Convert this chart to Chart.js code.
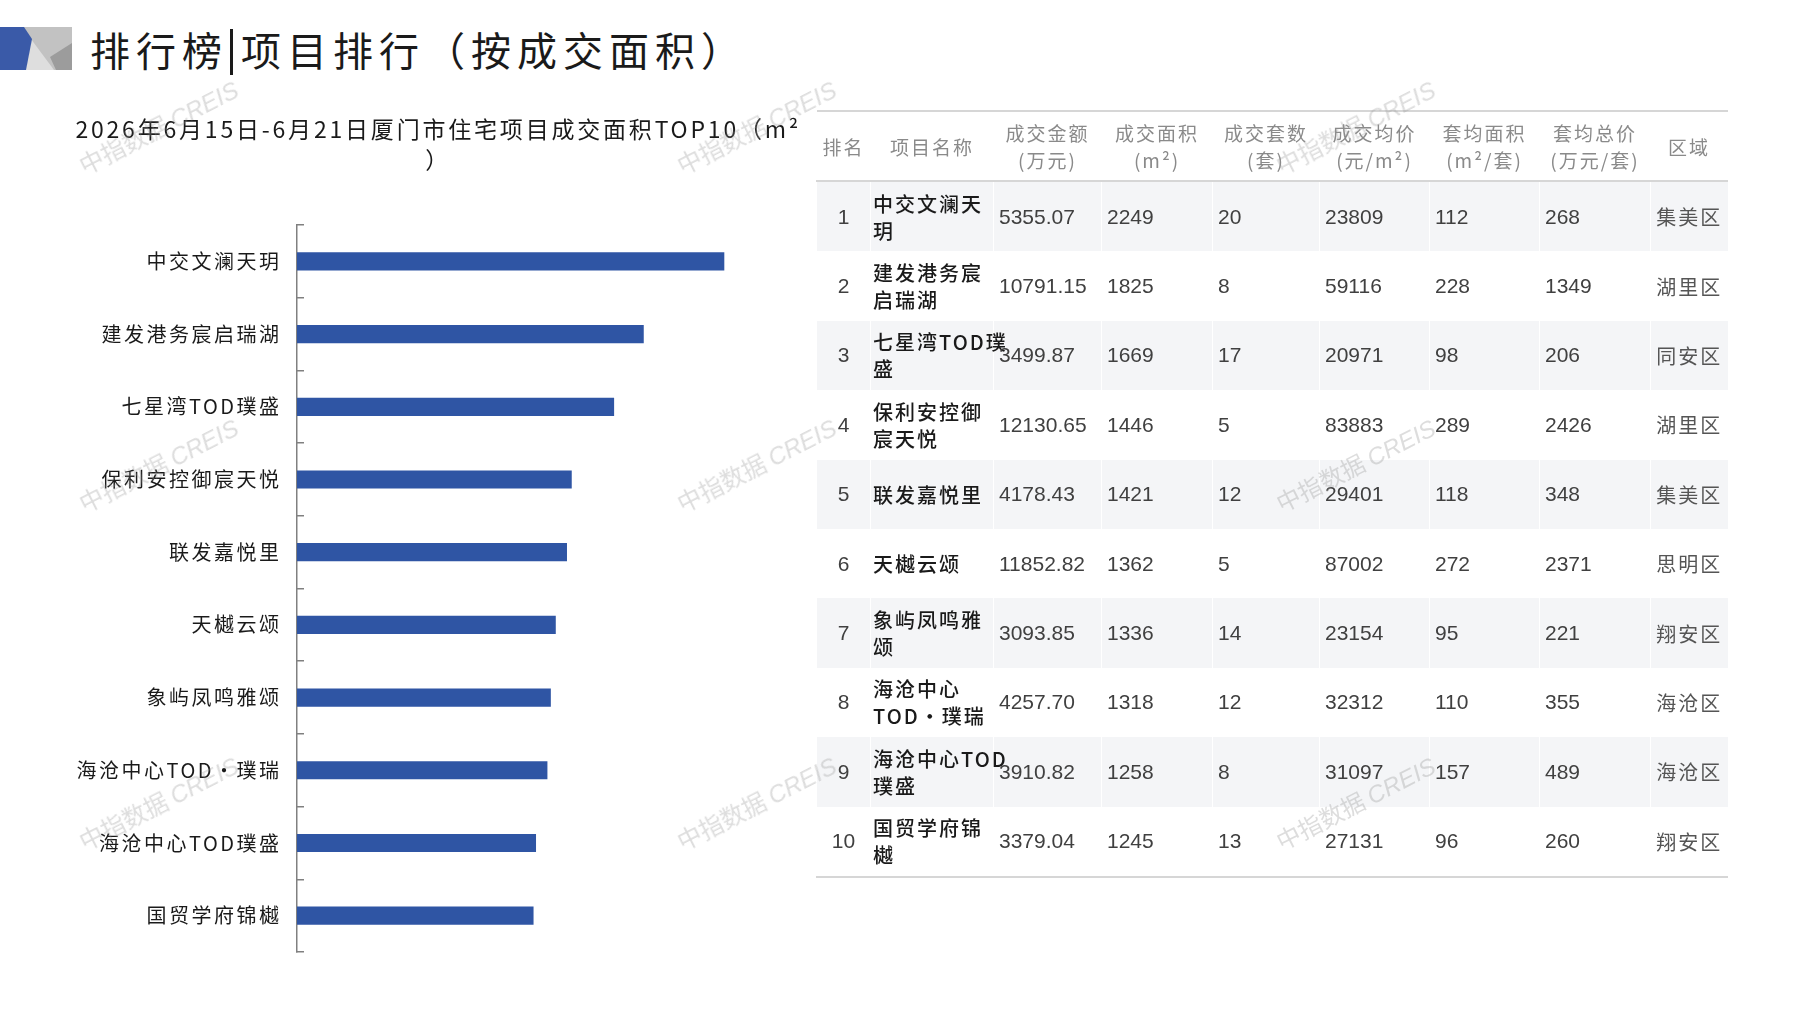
<!DOCTYPE html>
<html lang="zh-CN">

<head>
    <meta charset="UTF-8">
    <title>排行榜|项目排行（按成交面积）</title>
    <script src="https://cdn.jsdelivr.net/npm/chart.js"></script>
    <style>
        body {
            margin: 0;
            width: 1797px;
            height: 1010px;
            background: #ffffff;
            position: relative;
            overflow: hidden;
            font-family: "Noto Sans CJK SC", sans-serif;
        }

        #logo {
            position: absolute;
            left: 0;
            top: 27px;
        }

        #titulo {
            position: absolute;
            left: 90px;
            top: 21px;
            font-size: 40px;
            line-height: 56px;
            letter-spacing: 6px;
            color: #1a1a1a;
            white-space: nowrap;
        }

        #titulo .barra {
            display: inline-block;
            width: 3px;
            height: 46px;
            background: #1a1a1a;
            vertical-align: middle;
            margin: -6px 8px 0 2px;
        }

        #grafico {
            position: absolute;
            left: 0;
            top: 100px;
            width: 880px;
            height: 862px;
        }

        #tabela {
            position: absolute;
            left: 816px;
            top: 110px;
            width: 911px;
            border-collapse: collapse;
            table-layout: fixed;
            border-top: 2px solid #d6d6d6;
            border-bottom: 2px solid #d6d6d6;
        }

        #tabela th {
            height: 68px;
            padding: 0;
            font-weight: normal;
            font-size: 19px;
            line-height: 27px;
            letter-spacing: 2px;
            color: #8a8a8a;
            text-align: center;
            vertical-align: middle;
            border-bottom: 2px solid #d6d6d6;
            white-space: nowrap;
        }

        #tabela td {
            height: 69.4px;
            padding: 0 0 0 5px;
            vertical-align: middle;
            border-left: 1px solid #ffffff;
            white-space: nowrap;
            font-family: "Liberation Sans", "Noto Sans CJK SC", sans-serif;
            font-size: 21px;
            color: #404040;
        }

        #tabela tr.par td {
            background: #f4f5f7;
        }

        #tabela td.rank {
            padding: 0;
            text-align: center;
        }

        #tabela td.nome {
            padding-left: 2px;
            font-family: "Noto Sans CJK SC", sans-serif;
            font-size: 20px;
            font-weight: 500;
            line-height: 27px;
            letter-spacing: 2px;
            color: #1a1a1a;
        }

        #tabela td.regiao {
            padding: 0;
            text-align: center;
            font-family: "Noto Sans CJK SC", sans-serif;
            font-size: 20px;
            letter-spacing: 2px;
            color: #555555;
        }

        .marca {
            position: absolute;
            transform: translate(-50%, -50%) rotate(-27deg);
            font-size: 24px;
            color: rgba(150, 150, 150, 0.32);
            white-space: nowrap;
            pointer-events: none;
        }

        .marca i {
            font-family: "Liberation Sans", sans-serif;
        }
    </style>
</head>

<body>
    <svg id="logo" width="72" height="43" viewBox="0 0 72 43">
        <rect x="24" y="0" width="48" height="43" fill="#c2c2c2" />
        <polygon points="31,12 54,43 25,43" fill="#dedede" />
        <polygon points="72,16 72,43 56,43 50,30" fill="#9c9c9c" />
        <polygon points="0,0 24,0 32,12 26,43 0,43" fill="#3a5aa8" />
    </svg>
    <div id="titulo">排行榜<span class="barra"></span>项目排行（按成交面积）</div>

    <div id="grafico">
        <canvas id="myChart"></canvas>
    </div>

    <table id="tabela"></table>

    <div id="marcas"></div>
</body>

</html>

<script>
    const subtitleLines = ['2026年6月15日-6月21日厦门市住宅项目成交面积TOP10（m²', '）'];

    const projects = [
        '中交文澜天玥',
        '建发港务宸启瑞湖',
        '七星湾TOD璞盛',
        '保利安控御宸天悦',
        '联发嘉悦里',
        '天樾云颂',
        '象屿凤鸣雅颂',
        '海沧中心TOD•璞瑞',
        '海沧中心TOD璞盛',
        '国贸学府锦樾'
    ];

    // 成交面积 (m²)
    const areas = [2249, 1825, 1669, 1446, 1421, 1362, 1336, 1318, 1258, 1245];

    const tableHeaders = [
        ['排名'],
        ['项目名称'],
        ['成交金额', '(万元)'],
        ['成交面积', '(m²)'],
        ['成交套数', '(套)'],
        ['成交均价', '(元/m²)'],
        ['套均面积', '(m²/套)'],
        ['套均总价', '(万元/套)'],
        ['区域']
    ];

    // names as they wrap in the table cells
    const tableNames = [
        '中交文澜天\n玥',
        '建发港务宸\n启瑞湖',
        '七星湾TOD璞\n盛',
        '保利安控御\n宸天悦',
        '联发嘉悦里',
        '天樾云颂',
        '象屿凤鸣雅\n颂',
        '海沧中心\nTOD•璞瑞',
        '海沧中心TOD\n璞盛',
        '国贸学府锦\n樾'
    ];
    const amounts = ['5355.07', '10791.15', '3499.87', '12130.65', '4178.43', '11852.82', '3093.85', '4257.70', '3910.82', '3379.04'];
    const units = [20, 8, 17, 5, 12, 5, 14, 12, 8, 13];
    const avgPrices = [23809, 59116, 20971, 83883, 29401, 87002, 23154, 32312, 31097, 27131];
    const avgAreas = [112, 228, 98, 289, 118, 272, 95, 110, 157, 96];
    const avgTotals = [268, 1349, 206, 2426, 348, 2371, 221, 355, 489, 260];
    const districts = ['集美区', '湖里区', '同安区', '湖里区', '集美区', '思明区', '翔安区', '海沧区', '海沧区', '翔安区'];

    const colWidths = [54, 123, 108, 111, 107, 110, 110, 111, 77];

    const fonte = '"Noto Sans CJK SC", sans-serif';

    // wider spacing for the subtitle, narrower for the tick labels (drawn after the bars)
    const espacamento = {
        id: 'espacamento',
        beforeDraw(chart) {
            chart.ctx.letterSpacing = '2.8px';
        },
        afterDatasetsDraw(chart) {
            chart.ctx.letterSpacing = '2.5px';
        }
    };

    function criarGrafico() {
        const dataBarra = {
            labels: projects,
            datasets: [{
                label: '成交面积',
                data: areas,
                backgroundColor: '#2f55a4',
                categoryPercentage: 0.5,
                barPercentage: 0.5
            }]
        };

        const configBarra = {
            type: 'bar',
            data: dataBarra,
            plugins: [espacamento],
            options: {
                indexAxis: 'y',
                animation: false,
                responsive: true,
                maintainAspectRatio: false,
                layout: {
                    padding: { left: 0, right: 3.5, top: 0, bottom: 10 }
                },
                plugins: {
                    legend: { display: false },
                    tooltip: { enabled: false },
                    title: {
                        display: true,
                        text: subtitleLines,
                        color: '#1a1a1a',
                        font: { family: fonte, size: 23, weight: 'normal', lineHeight: 1.35 },
                        padding: { top: 14, bottom: 49 }
                    }
                },
                scales: {
                    x: {
                        display: false,
                        min: 0,
                        max: 3050
                    },
                    y: {
                        grid: {
                            offset: true,
                            drawOnChartArea: false,
                            tickLength: -7,
                            color: '#808080',
                            lineWidth: 1.5
                        },
                        border: { color: '#808080', width: 1.5 },
                        ticks: {
                            z: 1,
                            color: '#1a1a1a',
                            padding: 22.5,
                            font: { family: fonte, size: 20 }
                        },
                        afterFit(scale) {
                            scale.width = 297;
                            scale.paddingTop = 0;
                            scale.paddingBottom = 0;
                        }
                    }
                }
            }
        };

        new Chart(document.getElementById('myChart'), configBarra);
    }

    function montarTabela() {
        var html = '<colgroup>';
        colWidths.forEach(function (w) {
            html += '<col style="width:' + w + 'px">';
        });
        html += '</colgroup><tr>';
        tableHeaders.forEach(function (h) {
            html += '<th>' + h.join('<br>') + '</th>';
        });
        html += '</tr>';

        for (var i = 0; i < tableNames.length; i++) {
            html += '<tr' + (i % 2 === 0 ? ' class="par"' : '') + '>';
            html += '<td class="rank">' + (i + 1) + '</td>';
            html += '<td class="nome">' + tableNames[i].replace('\n', '<br>') + '</td>';
            html += '<td>' + amounts[i] + '</td>';
            html += '<td>' + areas[i] + '</td>';
            html += '<td>' + units[i] + '</td>';
            html += '<td>' + avgPrices[i] + '</td>';
            html += '<td>' + avgAreas[i] + '</td>';
            html += '<td>' + avgTotals[i] + '</td>';
            html += '<td class="regiao">' + districts[i] + '</td>';
            html += '</tr>';
        }
        document.getElementById('tabela').innerHTML = html;
    }

    function marcasDagua() {
        var xs = [158, 756, 1355];
        var ys = [126, 464, 802];
        var html = '';
        ys.forEach(function (y) {
            xs.forEach(function (x) {
                html += '<div class="marca" style="left:' + x + 'px;top:' + y + 'px">中指数据 <i>CREIS</i></div>';
            });
        });
        document.getElementById('marcas').innerHTML = html;
    }

    criarGrafico();
    montarTabela();
    marcasDagua();
</script>
